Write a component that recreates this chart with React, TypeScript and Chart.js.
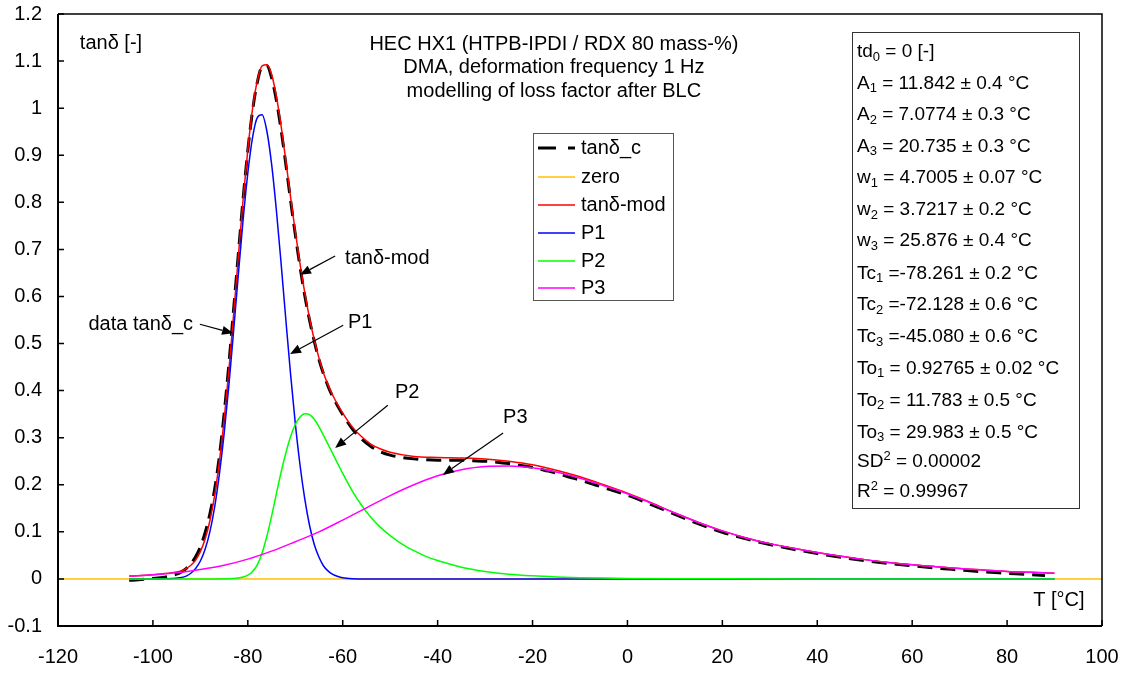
import React, { useEffect, useRef } from "react";
import { Chart, registerables } from "chart.js";

Chart.register(...registerables);

const FONT = '"Liberation Sans", Arial, Helvetica, sans-serif';

// axis ticks
const xTicks = [-120, -100, -80, -60, -40, -20, 0, 20, 40, 60, 80, 100];
const yTicks = [-0.1, 0, 0.1, 0.2, 0.3, 0.4, 0.5, 0.6, 0.7, 0.8, 0.9, 1, 1.1, 1.2];

// measured loss factor tanδ_c
const dataT = [-105, -103, -101, -99, -97, -95, -94, -93, -92, -91, -90, -89, -88, -87, -86, -85, -84, -83, -82, -81, -80, -79, -78, -77, -76, -75, -74, -73, -72, -71, -70, -69, -68, -67, -66, -65, -64, -63, -62, -61, -60, -58, -56, -54, -52, -50, -47.5, -45, -42.5, -40, -37.5, -35, -32.5, -30, -27.5, -25, -22.5, -20, -17.5, -15, -12.5, -10, -7.5, -5, -2.5, 0, 5, 10, 15, 20, 25, 30, 35, 40, 45, 50, 55, 60, 65, 70, 75, 80, 85, 88];
const dataTan = [-0.003, -0.002, 0.0, 0.002, 0.005, 0.01, 0.015, 0.022, 0.032, 0.047, 0.068, 0.098, 0.138, 0.19, 0.26, 0.35, 0.455, 0.572, 0.69, 0.807, 0.91, 0.995, 1.055, 1.088, 1.09, 1.065, 1.018, 0.955, 0.882, 0.805, 0.732, 0.663, 0.602, 0.55, 0.505, 0.466, 0.434, 0.407, 0.385, 0.366, 0.349, 0.319, 0.297, 0.281, 0.27, 0.263, 0.258, 0.255, 0.253, 0.252, 0.252, 0.252, 0.251, 0.25, 0.248, 0.245, 0.241, 0.237, 0.231, 0.225, 0.217, 0.21, 0.202, 0.194, 0.186, 0.178, 0.158, 0.137, 0.117, 0.099, 0.085, 0.073, 0.063, 0.054, 0.046, 0.039, 0.033, 0.028, 0.023, 0.019, 0.015, 0.012, 0.009, 0.007];

// zero line
const zeroT = [-120, 100];
const zeroTan = [0, 0];

// modelled loss factor tanδ-mod
const modT = [-105, -100, -96, -94, -93, -92, -91, -90, -89, -88, -87, -86, -85, -84, -83, -82, -81, -80, -79, -78, -77, -76, -75, -74, -73, -72, -71, -70, -69, -68, -67, -66, -65, -64, -63, -62, -61, -60, -58, -56, -54, -52, -50, -45, -40, -35, -30, -25, -20, -15, -10, -5, 0, 5, 10, 15, 20, 25, 30, 35, 40, 45, 50, 55, 60, 65, 70, 75, 80, 85, 90];
const modTan = [0.006, 0.009, 0.013, 0.017, 0.022, 0.029, 0.04, 0.058, 0.085, 0.123, 0.177, 0.249, 0.337, 0.442, 0.561, 0.684, 0.805, 0.912, 0.999, 1.058, 1.09, 1.092, 1.072, 1.026, 0.963, 0.889, 0.812, 0.738, 0.669, 0.608, 0.554, 0.508, 0.469, 0.436, 0.41, 0.388, 0.369, 0.352, 0.323, 0.302, 0.286, 0.276, 0.269, 0.26, 0.258, 0.257, 0.255, 0.25, 0.2425, 0.231, 0.217, 0.2, 0.182, 0.162, 0.14, 0.12, 0.102, 0.087, 0.075, 0.065, 0.056, 0.048, 0.041, 0.035, 0.03, 0.026, 0.022, 0.019, 0.016, 0.014, 0.012];

// peak P1
const p1T = [-105, -100, -96, -94, -93, -92, -91, -90, -89, -88, -87, -86, -85, -84, -83, -82, -81, -80, -79, -78, -77, -76, -75, -74, -73, -72, -71, -70, -69, -68, -67, -66, -65, -64, -63, -62, -61, -60, -58, -55, -50, -20, 20, 90];
const p1Tan = [0, 0, 0.001, 0.003, 0.006, 0.012, 0.022, 0.038, 0.063, 0.1, 0.152, 0.222, 0.308, 0.41, 0.526, 0.646, 0.762, 0.862, 0.938, 0.98, 0.986, 0.952, 0.882, 0.785, 0.672, 0.552, 0.436, 0.331, 0.242, 0.17, 0.114, 0.073, 0.046, 0.027, 0.016, 0.009, 0.005, 0.0025, 0.0006, 0, 0, 0, 0, 0];

// peak P2
const p2T = [-105, -90, -84, -82, -81, -80, -79, -78, -77, -76, -75, -74, -73, -72, -71, -70, -69, -68, -67, -66, -65, -64, -63, -62, -61, -60, -58, -56, -54, -52, -50, -47.5, -45, -42.5, -40, -35, -30, -25, -20, -15, -10, -5, 0, 10, 20, 40, 90];
const p2Tan = [0, 0, 0.0005, 0.002, 0.004, 0.008, 0.016, 0.03, 0.055, 0.09, 0.133, 0.18, 0.226, 0.267, 0.302, 0.328, 0.344, 0.351, 0.349, 0.339, 0.323, 0.304, 0.284, 0.264, 0.244, 0.224, 0.187, 0.156, 0.13, 0.109, 0.092, 0.074, 0.06, 0.048, 0.039, 0.025, 0.016, 0.01, 0.0065, 0.0042, 0.0027, 0.0017, 0.0011, 0.0004, 0.0002, 0, 0];

// peak P3
const p3T = [-105, -100, -95, -90, -85, -80, -75, -70, -65, -60, -55, -50, -45, -40, -35, -30, -25, -20, -15, -10, -5, 0, 5, 10, 15, 20, 25, 30, 35, 40, 45, 50, 55, 60, 65, 70, 75, 80, 85, 90];
const p3Tan = [0.006, 0.009, 0.013, 0.02, 0.029, 0.042, 0.059, 0.079, 0.1, 0.125, 0.151, 0.177, 0.2, 0.219, 0.232, 0.239, 0.24, 0.236, 0.227, 0.214, 0.198, 0.181, 0.161, 0.14, 0.12, 0.102, 0.087, 0.075, 0.065, 0.056, 0.048, 0.041, 0.035, 0.03, 0.026, 0.022, 0.019, 0.016, 0.014, 0.012];

const seriesLabels = ["tanδ_c", "zero", "tanδ-mod", "P1", "P2", "P3"];

const titleLines = [
  "HEC HX1 (HTPB-IPDI / RDX 80 mass-%)",
  "DMA, deformation frequency 1 Hz",
  "modelling of loss factor after BLC",
];

// fit parameters: symbol, index (sub- or superscript), remainder
const paramSymbols = ["td", "A", "A", "A", "w", "w", "w", "Tc", "Tc", "Tc", "To", "To", "To", "SD", "R"];
const paramIndices = ["0", "1", "2", "3", "1", "2", "3", "1", "2", "3", "1", "2", "3", "2", "2"];
const paramValues = [
  " = 0 [-]",
  " = 11.842 ± 0.4 °C",
  " = 7.0774 ± 0.3 °C",
  " = 20.735 ± 0.3 °C",
  " = 4.7005 ± 0.07 °C",
  " = 3.7217 ± 0.2 °C",
  " = 25.876 ± 0.4 °C",
  " =-78.261 ± 0.2 °C",
  " =-72.128 ± 0.6 °C",
  " =-45.080 ± 0.6 °C",
  " = 0.92765 ± 0.02 °C",
  " = 11.783 ± 0.5 °C",
  " = 29.983 ± 0.5 °C",
  " = 0.00002",
  " = 0.99967",
];

// labelled arrows, in axis units
const callouts = [
  { text: "data tanδ_c", align: "right", at: [-91.55, 0.54], from: [-90.1, 0.541], to: [-83.1, 0.522] },
  { text: "tanδ-mod", align: "left", at: [-59.5, 0.68], from: [-61.6, 0.686], to: [-69.0, 0.646] },
  { text: "P1", align: "left", at: [-58.9, 0.544], from: [-59.9, 0.539], to: [-71.1, 0.478] },
  { text: "P2", align: "left", at: [-49.0, 0.397], from: [-50.5, 0.369], to: [-61.6, 0.278] },
  { text: "P3", align: "left", at: [-26.2, 0.342], from: [-26.2, 0.31], to: [-38.9, 0.221] },
];

const zip = (xs: number[], ys: number[]) => xs.map((x, i) => ({ x, y: ys[i] }));

const overlay = {
  id: "overlay",
  afterDraw(chart: any) {
    const { ctx, chartArea: a, scales } = chart;
    const sx = (v: number) => scales.x.getPixelForValue(v);
    const sy = (v: number) => scales.y.getPixelForValue(v);
    const font = (s: number) => `${s}px ${FONT}`;
    ctx.save();

    // plot frame
    ctx.strokeStyle = "#000";
    ctx.lineWidth = 1.5;
    ctx.beginPath();
    ctx.moveTo(a.left, a.top);
    ctx.lineTo(a.right, a.top);
    ctx.lineTo(a.right, a.bottom);
    ctx.stroke();
    ctx.lineWidth = 2;
    ctx.beginPath();
    ctx.moveTo(a.left, a.top);
    ctx.lineTo(a.left, a.bottom);
    ctx.lineTo(a.right, a.bottom);
    ctx.stroke();

    // inward tick marks
    ctx.lineWidth = 1.5;
    ctx.beginPath();
    xTicks.forEach((v) => {
      const p = sx(v);
      ctx.moveTo(p, a.bottom);
      ctx.lineTo(p, a.bottom - 6);
    });
    yTicks.forEach((v) => {
      const p = sy(v);
      ctx.moveTo(a.left, p);
      ctx.lineTo(a.left + 6, p);
    });
    ctx.stroke();

    // tick labels
    ctx.fillStyle = "#000";
    ctx.textBaseline = "middle";
    ctx.font = font(20);
    ctx.textAlign = "right";
    yTicks.forEach((v) => ctx.fillText(String(Math.round(v * 10) / 10), a.left - 16, sy(v)));
    ctx.textAlign = "center";
    xTicks.forEach((v) => ctx.fillText(String(v), sx(v), a.bottom + 31));

    // axis titles
    ctx.textAlign = "left";
    ctx.fillText("tanδ [-]", sx(-115.4), sy(1.138));
    ctx.fillText("T [°C]", sx(85.5), sy(-0.045));

    // header
    ctx.textAlign = "center";
    const hy = [1.135, 1.086, 1.035];
    titleLines.forEach((t, i) => ctx.fillText(t, sx(-15.5), sy(hy[i])));

    // callouts with arrows
    callouts.forEach((c) => {
      ctx.textAlign = c.align as CanvasTextAlign;
      ctx.fillText(c.text, sx(c.at[0]), sy(c.at[1]));
      const x0 = sx(c.from[0]), y0 = sy(c.from[1]);
      const x1 = sx(c.to[0]), y1 = sy(c.to[1]);
      const ang = Math.atan2(y1 - y0, x1 - x0);
      const len = 11, hw = 4.5;
      const bx = x1 - len * Math.cos(ang), by = y1 - len * Math.sin(ang);
      ctx.strokeStyle = "#000";
      ctx.lineWidth = 1.2;
      ctx.beginPath();
      ctx.moveTo(x0, y0);
      ctx.lineTo(bx, by);
      ctx.stroke();
      ctx.beginPath();
      ctx.moveTo(x1, y1);
      ctx.lineTo(bx + hw * Math.sin(ang), by - hw * Math.cos(ang));
      ctx.lineTo(bx - hw * Math.sin(ang), by + hw * Math.cos(ang));
      ctx.closePath();
      ctx.fill();
    });

    // legend box
    const lg = { left: 533, top: 133, right: 673, bottom: 300 };
    ctx.fillStyle = "#fff";
    ctx.fillRect(lg.left, lg.top, lg.right - lg.left, lg.bottom - lg.top);
    ctx.strokeStyle = "#555";
    ctx.lineWidth = 1;
    ctx.strokeRect(lg.left + 0.5, lg.top + 0.5, lg.right - lg.left, lg.bottom - lg.top);
    const rowY = [148, 177, 205, 233, 261, 288];
    chart.data.datasets.forEach((ds: any, i: number) => {
      const y = rowY[i];
      ctx.strokeStyle = ds.borderColor;
      ctx.lineWidth = ds.borderWidth;
      ctx.setLineDash(ds.borderDash && ds.borderDash.length ? [18, 12] : []);
      ctx.beginPath();
      ctx.moveTo(538, y);
      ctx.lineTo(575, y);
      ctx.stroke();
      ctx.setLineDash([]);
      ctx.fillStyle = "#000";
      ctx.textAlign = "left";
      ctx.font = font(20);
      ctx.fillText(ds.label, 581, y);
    });

    // parameter box
    const pb = { left: 852, top: 32, right: 1079, bottom: 508 };
    ctx.fillStyle = "#fff";
    ctx.fillRect(pb.left, pb.top, pb.right - pb.left, pb.bottom - pb.top);
    ctx.strokeStyle = "#333";
    ctx.lineWidth = 1;
    ctx.strokeRect(pb.left + 0.5, pb.top + 0.5, pb.right - pb.left, pb.bottom - pb.top);
    const py = [52, 83.5, 115, 146.5, 178, 210, 241, 273.5, 305, 337, 368.5, 400.5, 432.5, 462, 492];
    ctx.fillStyle = "#000";
    ctx.textAlign = "left";
    paramSymbols.forEach((sym, i) => {
      let x = 857;
      const y = py[i];
      const sup = i >= 13;
      ctx.font = font(19);
      ctx.fillText(sym, x, y);
      x += ctx.measureText(sym).width;
      ctx.font = font(13);
      ctx.fillText(paramIndices[i], x, y + (sup ? -6 : 5));
      x += ctx.measureText(paramIndices[i]).width;
      ctx.font = font(19);
      ctx.fillText(paramValues[i], x, y);
    });

    ctx.restore();
  },
};

export default function App() {
  const ref = useRef<HTMLCanvasElement>(null);

  useEffect(() => {
    const line = { pointRadius: 0, cubicInterpolationMode: "monotone" as const, fill: false };
    const chart = new Chart(ref.current as HTMLCanvasElement, {
      type: "line",
      data: {
        datasets: [
          { ...line, label: seriesLabels[0], data: zip(dataT, dataTan), borderColor: "#000000", borderWidth: 3, borderDash: [15, 8], order: 6 },
          { ...line, label: seriesLabels[1], data: zip(zeroT, zeroTan), borderColor: "#FFC000", borderWidth: 1.5, order: 5 },
          { ...line, label: seriesLabels[2], data: zip(modT, modTan), borderColor: "#FF0000", borderWidth: 1.5, order: 4 },
          { ...line, label: seriesLabels[3], data: zip(p1T, p1Tan), borderColor: "#0000FF", borderWidth: 1.5, order: 3 },
          { ...line, label: seriesLabels[4], data: zip(p2T, p2Tan), borderColor: "#00FF00", borderWidth: 1.5, order: 2 },
          { ...line, label: seriesLabels[5], data: zip(p3T, p3Tan), borderColor: "#FF00FF", borderWidth: 1.5, order: 1 },
        ],
      },
      options: {
        animation: false,
        responsive: false,
        devicePixelRatio: 1,
        layout: { padding: { top: 14, right: 25, left: 0, bottom: 0 } },
        plugins: { legend: { display: false }, tooltip: { enabled: false } },
        scales: {
          x: {
            type: "linear",
            min: -120,
            max: 100,
            grid: { display: false, drawTicks: false },
            border: { display: false },
            afterBuildTicks: (s: any) => {
              s.ticks = xTicks.map((v) => ({ value: v }));
            },
            afterFit: (s: any) => {
              s.height = 47;
            },
            ticks: { display: false },
          },
          y: {
            type: "linear",
            min: -0.1,
            max: 1.2,
            grid: { display: false, drawTicks: false },
            border: { display: false },
            afterBuildTicks: (s: any) => {
              s.ticks = yTicks.map((v) => ({ value: v }));
            },
            afterFit: (s: any) => {
              s.width = 58;
            },
            ticks: { display: false },
          },
        },
      },
      plugins: [overlay],
    });
    return () => chart.destroy();
  }, []);

  return (
    <div style={{ position: "absolute", left: 0, top: 0, width: 1127, height: 673, background: "#fff" }}>
      <canvas ref={ref} width={1127} height={673} style={{ display: "block" }} />
    </div>
  );
}
